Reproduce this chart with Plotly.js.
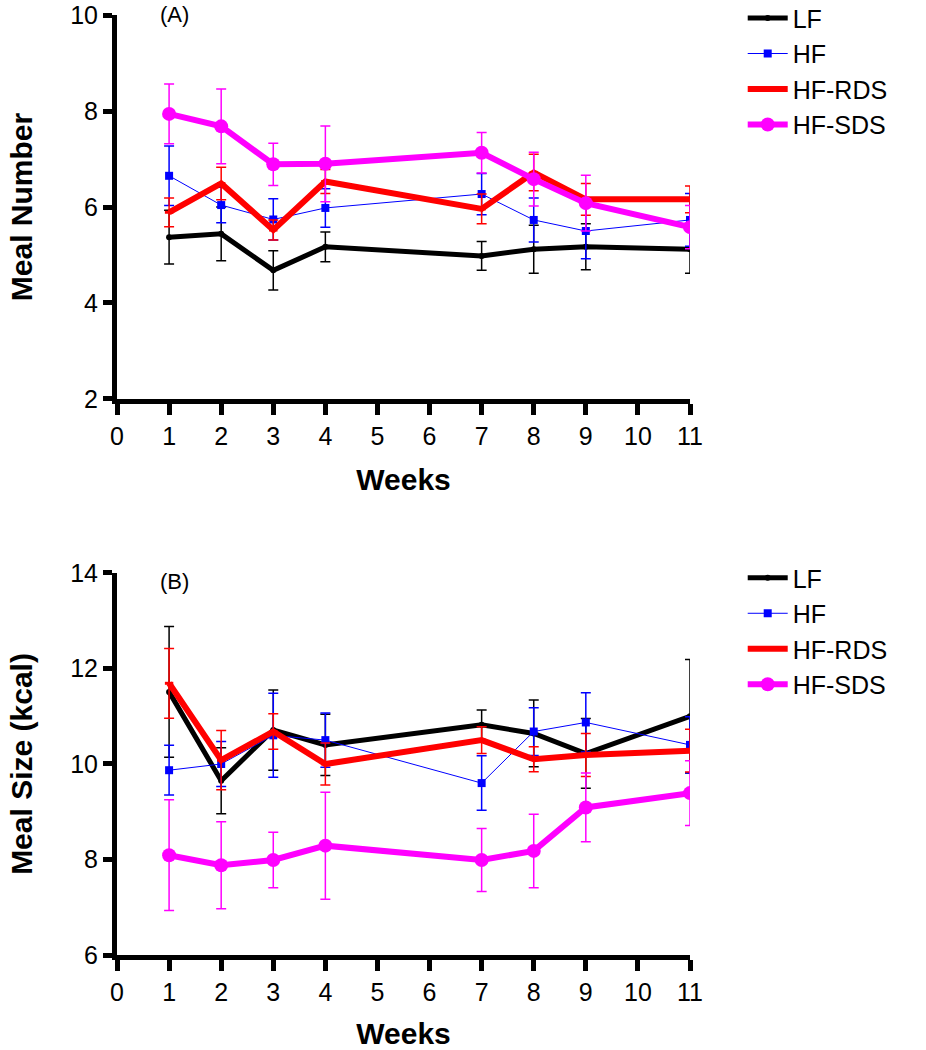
<!DOCTYPE html>
<html>
<head>
<meta charset="utf-8">
<script src="https://cdn.plot.ly/plotly-3.0.1.min.js"></script>
<style>html,body{margin:0;padding:0;background:#fff;}#chart{width:926px;height:1050px;}</style>
</head>
<body>
<div id="chart"></div>
<script>
// Data
const weeks = [1, 2, 3, 4, 7, 8, 9, 11];
const seriesNames = ["LF", "HF", "HF-RDS", "HF-SDS"];

// Panel A: Meal Number
const numLF = [5.37, 5.44, 4.68, 5.17, 4.98, 5.12, 5.17, 5.12];
const numLFerr = [0.56, 0.56, 0.41, 0.31, 0.30, 0.50, 0.48, 0.50];
const numHF = [6.65, 6.04, 5.74, 5.98, 6.27, 5.73, 5.50, 5.73];
const numHFerr = [0.62, 0.37, 0.43, 0.40, 0.43, 0.46, 0.58, 0.55];
const numRDS = [5.89, 6.49, 5.52, 6.53, 5.96, 6.72, 6.16, 6.16];
const numRDSerr = [0.30, 0.34, 0.21, 0.25, 0.31, 0.38, 0.33, 0.28];
const numSDS = [7.94, 7.68, 6.89, 6.90, 7.13, 6.58, 6.08, 5.58];
const numSDSerr = [0.62, 0.78, 0.44, 0.79, 0.42, 0.56, 0.58, 0.45];

// Panel B: Meal Size (kcal)
const sizeLF = [11.51, 9.65, 10.71, 10.40, 10.82, 10.64, 10.22, 11.00];
const sizeLFerr = [1.37, 0.69, 0.84, 0.64, 0.31, 0.70, 0.73, 1.19];
const sizeHF = [9.87, 10.00, 10.60, 10.50, 9.60, 10.68, 10.87, 10.40];
const sizeHFerr = [0.52, 0.47, 0.88, 0.57, 0.57, 0.50, 0.62, 0.59];
const sizeRDS = [11.69, 10.08, 10.68, 10.00, 10.50, 10.10, 10.19, 10.28];
const sizeRDSerr = [0.73, 0.62, 0.37, 0.44, 0.28, 0.26, 0.45, 0.45];
const sizeSDS = [8.09, 7.88, 7.99, 8.29, 7.99, 8.18, 9.09, 9.39];
const sizeSDSerr = [1.16, 0.91, 0.58, 1.12, 0.66, 0.77, 0.72, 0.68];

const xTicks = [0,1,2,3,4,5,6,7,8,9,10,11];

const styles = [
  {color: "#000000", lw: 5, symbol: "circle", msize: 6, ew: 1.5},
  {color: "#0000FF", lw: 1, symbol: "square", msize: 8, ew: 1.5},
  {color: "#FF0000", lw: 6, symbol: "line-ew", msize: 6, ew: 1.5},
  {color: "#FF00FF", lw: 6, symbol: "circle", msize: 14, ew: 1.5}
];

function mk(i, y, err, xa, ya, legend) {
  const s = styles[i];
  return {
    x: weeks, y: y, type: "scatter", mode: "lines+markers",
    name: seriesNames[i], xaxis: xa, yaxis: ya, legend: legend,
    line: {color: s.color, width: s.lw},
    marker: {color: s.color, symbol: s.symbol, size: s.msize, line: {color: s.color, width: i === 2 ? 3 : 0}},
    error_y: {type: "data", array: err, visible: true, color: s.color, thickness: s.ew, width: 5}
  };
}

const data = [
  mk(0, numLF, numLFerr, "x", "y", "legend"),
  mk(1, numHF, numHFerr, "x", "y", "legend"),
  mk(2, numRDS, numRDSerr, "x", "y", "legend"),
  mk(3, numSDS, numSDSerr, "x", "y", "legend"),
  mk(0, sizeLF, sizeLFerr, "x2", "y2", "legend2"),
  mk(1, sizeHF, sizeHFerr, "x2", "y2", "legend2"),
  mk(2, sizeRDS, sizeRDSerr, "x2", "y2", "legend2"),
  mk(3, sizeSDS, sizeSDSerr, "x2", "y2", "legend2")
];

const FAM = "Liberation Sans, Arial, sans-serif";
const tickFont = {family: FAM, size: 25, color: "#000"};
const titleFont = {family: FAM, size: 30, color: "#000", weight: "bold"};

function xaxis(anchor) {
  return {
    anchor: anchor, domain: [0, 1], range: [0, 11], tickvals: xTicks,
    showline: true, linecolor: "#000", linewidth: 5, ticks: "outside", ticklen: 11, tickwidth: 5, tickcolor: "#000",
    showgrid: false, zeroline: false, tickfont: tickFont,
    title: {text: "Weeks", font: titleFont, standoff: 22}
  };
}
function yaxis(anchor, domain, range, dtick, title) {
  return {
    anchor: anchor, domain: domain, range: range, dtick: dtick, tick0: 0,
    showline: true, linecolor: "#000", linewidth: 5, ticks: "outside", ticklen: 9, tickwidth: 5, tickcolor: "#000",
    showgrid: false, zeroline: false, tickfont: tickFont,
    title: {text: title, font: titleFont, standoff: 30}
  };
}

const legendFont = {family: FAM, size: 25, color: "#000"};

const layout = {
  width: 926, height: 1050,
  margin: {l: 117, r: 236, t: 15, b: 95, autoexpand: false},
  paper_bgcolor: "#fff", plot_bgcolor: "#fff",
  showlegend: true,
  xaxis: xaxis("y"),
  yaxis: yaxis("x", [0.5915, 1], [2, 10], 2, "Meal Number"),
  xaxis2: xaxis("y2"),
  yaxis2: yaxis("x2", [0, 0.4064], [6, 14], 2, "Meal Size (kcal)"),
  legend: {x: 1.092, y: 1.021, xanchor: "left", yanchor: "top", font: legendFont, bgcolor: "rgba(0,0,0,0)", itemwidth: 40, tracegroupgap: 0},
  legend2: {x: 1.092, y: 0.4255, xanchor: "left", yanchor: "top", font: legendFont, bgcolor: "rgba(0,0,0,0)", itemwidth: 40, tracegroupgap: 0},
  annotations: [
    {text: "(A)", xref: "paper", yref: "paper", x: 0.072, y: 1.016, xanchor: "left", yanchor: "top", showarrow: false, font: {family: FAM, size: 22, color: "#000"}},
    {text: "(B)", xref: "paper", yref: "paper", x: 0.072, y: 0.4128, xanchor: "left", yanchor: "top", showarrow: false, font: {family: FAM, size: 22, color: "#000"}}
  ]
};

Plotly.newPlot("chart", data, layout, {displayModeBar: false, staticPlot: true});
</script>
</body>
</html>
